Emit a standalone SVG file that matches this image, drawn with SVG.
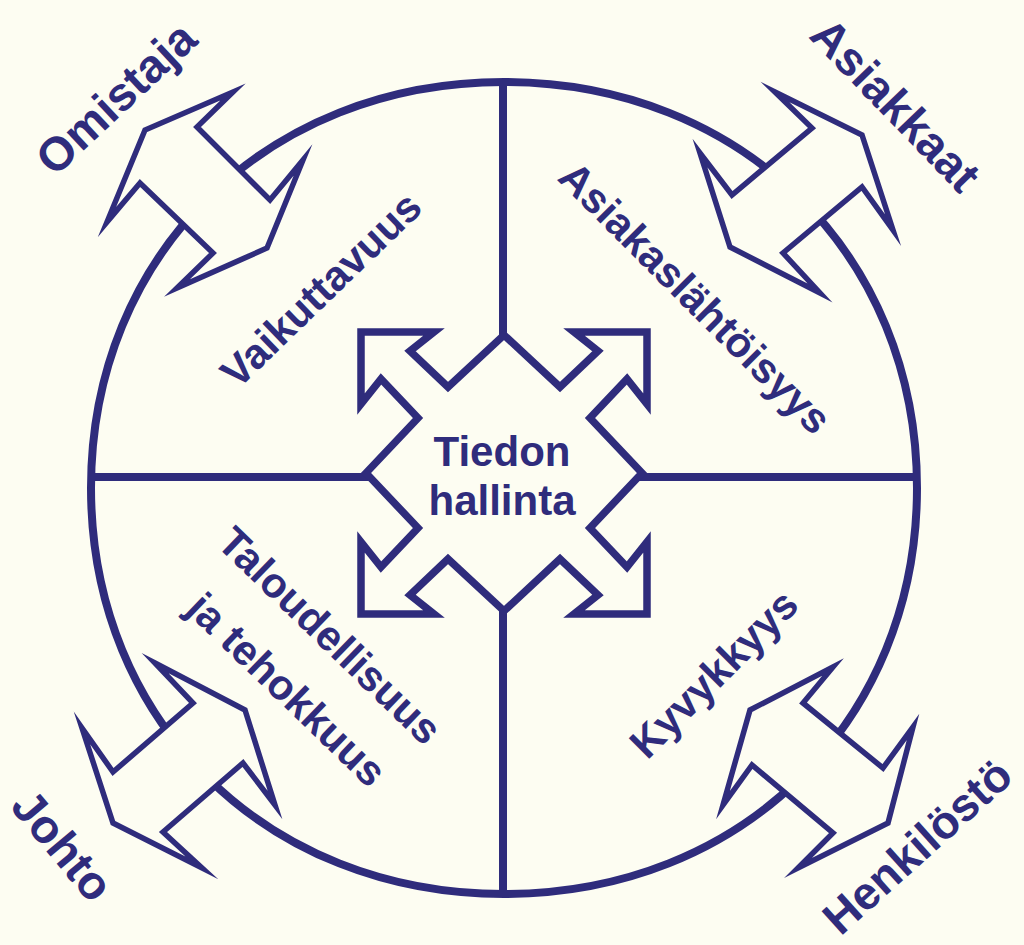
<svg xmlns="http://www.w3.org/2000/svg" width="1024" height="945" viewBox="0 0 1024 945">
<style>
.bg{fill:#fdfdf2}
.ln{fill:none;stroke:#2f2c7c;stroke-width:8}
.arr{fill:#fdfdf2;stroke:#2f2c7c;stroke-width:5.5;stroke-linejoin:miter;stroke-miterlimit:10}
.star{fill:#fdfdf2;stroke:#2f2c7c;stroke-width:7.5;stroke-linejoin:miter;stroke-miterlimit:10}
text{font-family:"Liberation Sans",Arial,sans-serif;font-weight:bold;fill:#2f2c7c;text-anchor:middle}
.out{font-size:47px}
.in{font-size:42px}
</style>
<rect class="bg" x="0" y="0" width="1024" height="945"/>
<g id="connectors">
<path class="ln" d="M91,488 C91,254.5 266.5,82 504,82 C741.5,82 917,254.5 917,488 C917,721.5 741.5,894 504,894 C266.5,894 91,721.5 91,488 Z"/>
<line class="ln" x1="503" y1="82" x2="503" y2="894"/>
<line class="ln" x1="91" y1="477" x2="917" y2="477"/>
</g>
<g id="arrow-omistaja">
<polygon class="arr" points="233,92 145,130 107,222 140,183 213,253 177,288 267,248 303,160 270,200 197,127"/>
</g>
<g id="arrow-asiakkaat">
<polygon class="arr" points="775,92 862,135 893,230 862,187 783,253 820,293 730,247 700,153 732,195 812,128"/>
</g>
<g id="arrow-johto">
<polygon class="arr" points="155,663 245,710 275,805 243,763 163,832 202,868 113,823 82,728 113,772 193,703"/>
</g>
<g id="arrow-henkilosto">
<polygon class="arr" points="833,667 750,710 723,805 752,765 833,833 798,868 888,823 913,727 883,768 803,703"/>
</g>
<g id="tiedon-hallinta">
<polygon class="star" transform="translate(504,473)" points="-138,0 -86,-55 -123,-94 -143,-69 -143,-141 -70,-141 -94,-122 -56,-86 0,-138 56,-86 94,-122 70,-141 143,-141 143,-69 123,-94 86,-55 138,0 86,55 123,94 143,69 143,141 70,141 94,122 56,86 0,138 -56,86 -94,122 -70,141 -143,141 -143,69 -123,94 -86,55"/>
<text class="in" x="502" y="466">Tiedon</text>
<text class="in" x="502" y="515">hallinta</text>
</g>
<g id="label-omistaja"><text class="out" transform="translate(127,110) rotate(-43)">Omistaja</text></g>
<g id="label-asiakkaat"><text class="out" transform="translate(884,116) rotate(46)">Asiakkaat</text></g>
<g id="label-johto"><text class="out" transform="translate(50,856) rotate(50)">Johto</text></g>
<g id="label-henkilosto"><text style="font-size:46px" transform="translate(928,858) rotate(-42)">Henkilöstö</text></g>
<g id="label-vaikuttavuus"><text class="in" transform="translate(331,300) rotate(-44)">Vaikuttavuus</text></g>
<g id="label-asiakaslahtoisyys"><text class="in" transform="translate(685,308) rotate(45)">Asiakaslähtöisyys</text></g>
<g id="label-kyvykkyys"><text class="in" transform="translate(724,684) rotate(-45)">Kyvykkyys</text></g>
<g id="label-taloudellisuus">
<text class="in" transform="translate(320,646) rotate(44)">Taloudellisuus</text>
<text class="in" transform="translate(277,700) rotate(44)">ja tehokkuus</text>
</g>
</svg>
